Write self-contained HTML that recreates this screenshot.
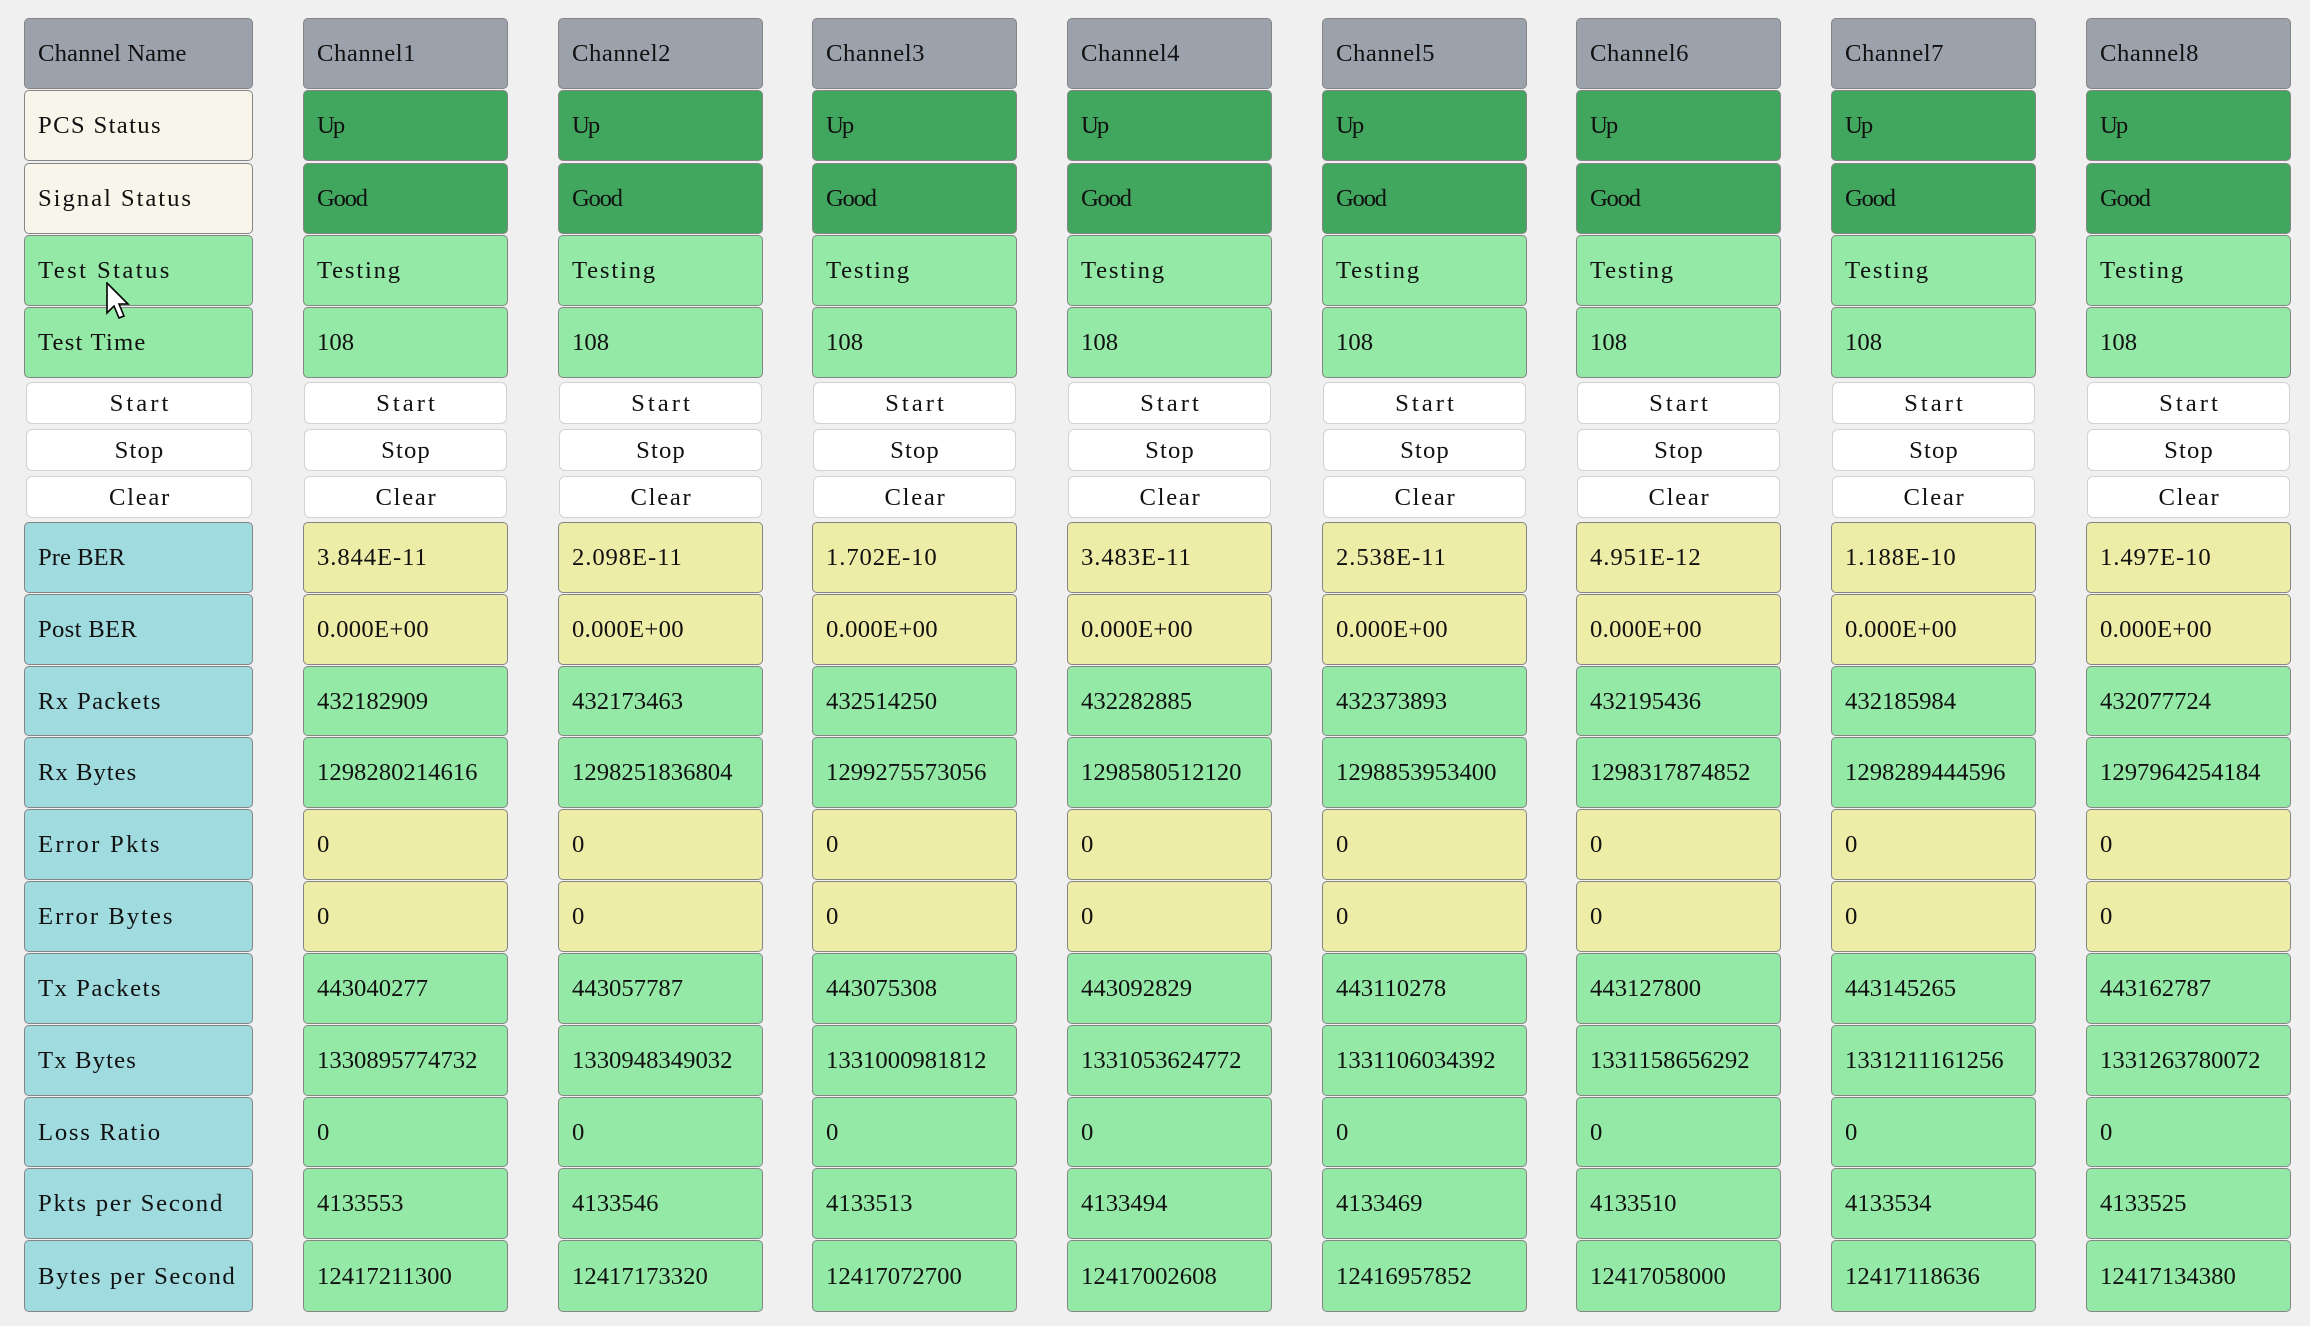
<!DOCTYPE html>
<html><head><meta charset="utf-8">
<style>
html,body{margin:0;padding:0;background:#f0f0f0;}
body{width:2310px;height:1326px;position:relative;overflow:hidden;font-family:"Liberation Serif","Noto Serif CJK SC",serif;font-size:24.7px;color:#111;}
.b{position:absolute;box-sizing:border-box;border:1.5px solid #858585;border-radius:5px;display:flex;align-items:center;padding-left:13px;padding-top:1px;white-space:nowrap;}
.b span{display:inline-block;}
.btn{position:absolute;box-sizing:border-box;border:1.5px solid #d2d2d2;border-radius:6px;background:#fff;display:flex;align-items:center;justify-content:center;white-space:nowrap;padding-top:1px;}
.btn span{display:inline-block;}
.cn{letter-spacing:0.55px}
.up{letter-spacing:-2px}
.gd{letter-spacing:-1.3px}
.ts{letter-spacing:1.8px}
.st{letter-spacing:3px;margin-left:3px}
.sp{letter-spacing:1.1px;margin-left:1px}
.cl{letter-spacing:1.7px;margin-left:2px}
.pb{letter-spacing:0.9px}
.pob{letter-spacing:0.3px}
/* columns */
.c0{left:24px;width:229px}
.c1{left:303px;width:205px}
.c2{left:558px;width:205px}
.c3{left:812px;width:205px}
.c4{left:1067px;width:205px}
.c5{left:1322px;width:205px}
.c6{left:1576px;width:205px}
.c7{left:1831px;width:205px}
.c8{left:2086px;width:205px}
.btn.c0{left:26px;width:226px}
.btn.c1{left:304px;width:203px}
.btn.c2{left:559px;width:203px}
.btn.c3{left:813px;width:203px}
.btn.c4{left:1068px;width:203px}
.btn.c5{left:1323px;width:203px}
.btn.c6{left:1577px;width:203px}
.btn.c7{left:1832px;width:203px}
.btn.c8{left:2087px;width:203px}
/* rows */
.r0{top:18px;height:71px}
.r1{top:90px;height:71px}
.r2{top:163px;height:71px}
.r3{top:235px;height:71px}
.r4{top:307px;height:71px}
.s0{top:382px;height:42px}
.s1{top:429px;height:42px}
.s2{top:476px;height:42px}
.d0{top:522px;height:71px}
.d1{top:594px;height:71px}
.d2{top:666px;height:70px}
.d3{top:737px;height:71px}
.d4{top:809px;height:71px}
.d5{top:881px;height:71px}
.d6{top:953px;height:71px}
.d7{top:1025px;height:71px}
.d8{top:1097px;height:70px}
.d9{top:1168px;height:71px}
.d10{top:1240px;height:72px}
/* colors */
.gy{background:#9ca2ac}
.cr{background:#f8f6ea}
.dg{background:#41a65e}
.lg{background:#94e9a7}
.cy{background:#a0dbe0}
.ye{background:#eeeda8}
</style></head><body>

<!-- Label column -->
<div class="b c0 r0 gy"><span style="letter-spacing:0.1px">Channel Name</span></div>
<div class="b c0 r1 cr"><span style="letter-spacing:1.35px">PCS Status</span></div>
<div class="b c0 r2 cr"><span style="letter-spacing:1.95px">Signal Status</span></div>
<div class="b c0 r3 lg"><span style="letter-spacing:2.4px">Test Status</span></div>
<div class="b c0 r4 lg"><span style="letter-spacing:1.2px">Test Time</span></div>
<div class="btn c0 s0"><span class="st">Start</span></div>
<div class="btn c0 s1"><span class="sp">Stop</span></div>
<div class="btn c0 s2"><span class="cl">Clear</span></div>
<div class="b c0 d0 cy"><span>Pre BER</span></div>
<div class="b c0 d1 cy"><span style="letter-spacing:0.3px">Post BER</span></div>
<div class="b c0 d2 cy"><span style="letter-spacing:1.35px">Rx Packets</span></div>
<div class="b c0 d3 cy"><span style="letter-spacing:1px">Rx Bytes</span></div>
<div class="b c0 d4 cy"><span style="letter-spacing:2.3px">Error Pkts</span></div>
<div class="b c0 d5 cy"><span style="letter-spacing:2px">Error Bytes</span></div>
<div class="b c0 d6 cy"><span style="letter-spacing:1.5px">Tx Packets</span></div>
<div class="b c0 d7 cy"><span style="letter-spacing:1.15px">Tx Bytes</span></div>
<div class="b c0 d8 cy"><span style="letter-spacing:1.75px">Loss Ratio</span></div>
<div class="b c0 d9 cy"><span style="letter-spacing:1.8px">Pkts per Second</span></div>
<div class="b c0 d10 cy"><span style="letter-spacing:1.6px">Bytes per Second</span></div>

<!-- Channel 1 -->
<div class="b c1 r0 gy"><span class="cn">Channel1</span></div>
<div class="b c1 r1 dg"><span class="up">Up</span></div>
<div class="b c1 r2 dg"><span class="gd">Good</span></div>
<div class="b c1 r3 lg"><span class="ts">Testing</span></div>
<div class="b c1 r4 lg"><span>108</span></div>
<div class="btn c1 s0"><span class="st">Start</span></div>
<div class="btn c1 s1"><span class="sp">Stop</span></div>
<div class="btn c1 s2"><span class="cl">Clear</span></div>
<div class="b c1 d0 ye"><span class="pb">3.844E-11</span></div>
<div class="b c1 d1 ye"><span class="pob">0.000E+00</span></div>
<div class="b c1 d2 lg"><span>432182909</span></div>
<div class="b c1 d3 lg"><span>1298280214616</span></div>
<div class="b c1 d4 ye"><span>0</span></div>
<div class="b c1 d5 ye"><span>0</span></div>
<div class="b c1 d6 lg"><span>443040277</span></div>
<div class="b c1 d7 lg"><span>1330895774732</span></div>
<div class="b c1 d8 lg"><span>0</span></div>
<div class="b c1 d9 lg"><span>4133553</span></div>
<div class="b c1 d10 lg"><span>12417211300</span></div>

<!-- Channel 2 -->
<div class="b c2 r0 gy"><span class="cn">Channel2</span></div>
<div class="b c2 r1 dg"><span class="up">Up</span></div>
<div class="b c2 r2 dg"><span class="gd">Good</span></div>
<div class="b c2 r3 lg"><span class="ts">Testing</span></div>
<div class="b c2 r4 lg"><span>108</span></div>
<div class="btn c2 s0"><span class="st">Start</span></div>
<div class="btn c2 s1"><span class="sp">Stop</span></div>
<div class="btn c2 s2"><span class="cl">Clear</span></div>
<div class="b c2 d0 ye"><span class="pb">2.098E-11</span></div>
<div class="b c2 d1 ye"><span class="pob">0.000E+00</span></div>
<div class="b c2 d2 lg"><span>432173463</span></div>
<div class="b c2 d3 lg"><span>1298251836804</span></div>
<div class="b c2 d4 ye"><span>0</span></div>
<div class="b c2 d5 ye"><span>0</span></div>
<div class="b c2 d6 lg"><span>443057787</span></div>
<div class="b c2 d7 lg"><span>1330948349032</span></div>
<div class="b c2 d8 lg"><span>0</span></div>
<div class="b c2 d9 lg"><span>4133546</span></div>
<div class="b c2 d10 lg"><span>12417173320</span></div>

<!-- Channel 3 -->
<div class="b c3 r0 gy"><span class="cn">Channel3</span></div>
<div class="b c3 r1 dg"><span class="up">Up</span></div>
<div class="b c3 r2 dg"><span class="gd">Good</span></div>
<div class="b c3 r3 lg"><span class="ts">Testing</span></div>
<div class="b c3 r4 lg"><span>108</span></div>
<div class="btn c3 s0"><span class="st">Start</span></div>
<div class="btn c3 s1"><span class="sp">Stop</span></div>
<div class="btn c3 s2"><span class="cl">Clear</span></div>
<div class="b c3 d0 ye"><span class="pb">1.702E-10</span></div>
<div class="b c3 d1 ye"><span class="pob">0.000E+00</span></div>
<div class="b c3 d2 lg"><span>432514250</span></div>
<div class="b c3 d3 lg"><span>1299275573056</span></div>
<div class="b c3 d4 ye"><span>0</span></div>
<div class="b c3 d5 ye"><span>0</span></div>
<div class="b c3 d6 lg"><span>443075308</span></div>
<div class="b c3 d7 lg"><span>1331000981812</span></div>
<div class="b c3 d8 lg"><span>0</span></div>
<div class="b c3 d9 lg"><span>4133513</span></div>
<div class="b c3 d10 lg"><span>12417072700</span></div>

<!-- Channel 4 -->
<div class="b c4 r0 gy"><span class="cn">Channel4</span></div>
<div class="b c4 r1 dg"><span class="up">Up</span></div>
<div class="b c4 r2 dg"><span class="gd">Good</span></div>
<div class="b c4 r3 lg"><span class="ts">Testing</span></div>
<div class="b c4 r4 lg"><span>108</span></div>
<div class="btn c4 s0"><span class="st">Start</span></div>
<div class="btn c4 s1"><span class="sp">Stop</span></div>
<div class="btn c4 s2"><span class="cl">Clear</span></div>
<div class="b c4 d0 ye"><span class="pb">3.483E-11</span></div>
<div class="b c4 d1 ye"><span class="pob">0.000E+00</span></div>
<div class="b c4 d2 lg"><span>432282885</span></div>
<div class="b c4 d3 lg"><span>1298580512120</span></div>
<div class="b c4 d4 ye"><span>0</span></div>
<div class="b c4 d5 ye"><span>0</span></div>
<div class="b c4 d6 lg"><span>443092829</span></div>
<div class="b c4 d7 lg"><span>1331053624772</span></div>
<div class="b c4 d8 lg"><span>0</span></div>
<div class="b c4 d9 lg"><span>4133494</span></div>
<div class="b c4 d10 lg"><span>12417002608</span></div>

<!-- Channel 5 -->
<div class="b c5 r0 gy"><span class="cn">Channel5</span></div>
<div class="b c5 r1 dg"><span class="up">Up</span></div>
<div class="b c5 r2 dg"><span class="gd">Good</span></div>
<div class="b c5 r3 lg"><span class="ts">Testing</span></div>
<div class="b c5 r4 lg"><span>108</span></div>
<div class="btn c5 s0"><span class="st">Start</span></div>
<div class="btn c5 s1"><span class="sp">Stop</span></div>
<div class="btn c5 s2"><span class="cl">Clear</span></div>
<div class="b c5 d0 ye"><span class="pb">2.538E-11</span></div>
<div class="b c5 d1 ye"><span class="pob">0.000E+00</span></div>
<div class="b c5 d2 lg"><span>432373893</span></div>
<div class="b c5 d3 lg"><span>1298853953400</span></div>
<div class="b c5 d4 ye"><span>0</span></div>
<div class="b c5 d5 ye"><span>0</span></div>
<div class="b c5 d6 lg"><span>443110278</span></div>
<div class="b c5 d7 lg"><span>1331106034392</span></div>
<div class="b c5 d8 lg"><span>0</span></div>
<div class="b c5 d9 lg"><span>4133469</span></div>
<div class="b c5 d10 lg"><span>12416957852</span></div>

<!-- Channel 6 -->
<div class="b c6 r0 gy"><span class="cn">Channel6</span></div>
<div class="b c6 r1 dg"><span class="up">Up</span></div>
<div class="b c6 r2 dg"><span class="gd">Good</span></div>
<div class="b c6 r3 lg"><span class="ts">Testing</span></div>
<div class="b c6 r4 lg"><span>108</span></div>
<div class="btn c6 s0"><span class="st">Start</span></div>
<div class="btn c6 s1"><span class="sp">Stop</span></div>
<div class="btn c6 s2"><span class="cl">Clear</span></div>
<div class="b c6 d0 ye"><span class="pb">4.951E-12</span></div>
<div class="b c6 d1 ye"><span class="pob">0.000E+00</span></div>
<div class="b c6 d2 lg"><span>432195436</span></div>
<div class="b c6 d3 lg"><span>1298317874852</span></div>
<div class="b c6 d4 ye"><span>0</span></div>
<div class="b c6 d5 ye"><span>0</span></div>
<div class="b c6 d6 lg"><span>443127800</span></div>
<div class="b c6 d7 lg"><span>1331158656292</span></div>
<div class="b c6 d8 lg"><span>0</span></div>
<div class="b c6 d9 lg"><span>4133510</span></div>
<div class="b c6 d10 lg"><span>12417058000</span></div>

<!-- Channel 7 -->
<div class="b c7 r0 gy"><span class="cn">Channel7</span></div>
<div class="b c7 r1 dg"><span class="up">Up</span></div>
<div class="b c7 r2 dg"><span class="gd">Good</span></div>
<div class="b c7 r3 lg"><span class="ts">Testing</span></div>
<div class="b c7 r4 lg"><span>108</span></div>
<div class="btn c7 s0"><span class="st">Start</span></div>
<div class="btn c7 s1"><span class="sp">Stop</span></div>
<div class="btn c7 s2"><span class="cl">Clear</span></div>
<div class="b c7 d0 ye"><span class="pb">1.188E-10</span></div>
<div class="b c7 d1 ye"><span class="pob">0.000E+00</span></div>
<div class="b c7 d2 lg"><span>432185984</span></div>
<div class="b c7 d3 lg"><span>1298289444596</span></div>
<div class="b c7 d4 ye"><span>0</span></div>
<div class="b c7 d5 ye"><span>0</span></div>
<div class="b c7 d6 lg"><span>443145265</span></div>
<div class="b c7 d7 lg"><span>1331211161256</span></div>
<div class="b c7 d8 lg"><span>0</span></div>
<div class="b c7 d9 lg"><span>4133534</span></div>
<div class="b c7 d10 lg"><span>12417118636</span></div>

<!-- Channel 8 -->
<div class="b c8 r0 gy"><span class="cn">Channel8</span></div>
<div class="b c8 r1 dg"><span class="up">Up</span></div>
<div class="b c8 r2 dg"><span class="gd">Good</span></div>
<div class="b c8 r3 lg"><span class="ts">Testing</span></div>
<div class="b c8 r4 lg"><span>108</span></div>
<div class="btn c8 s0"><span class="st">Start</span></div>
<div class="btn c8 s1"><span class="sp">Stop</span></div>
<div class="btn c8 s2"><span class="cl">Clear</span></div>
<div class="b c8 d0 ye"><span class="pb">1.497E-10</span></div>
<div class="b c8 d1 ye"><span class="pob">0.000E+00</span></div>
<div class="b c8 d2 lg"><span>432077724</span></div>
<div class="b c8 d3 lg"><span>1297964254184</span></div>
<div class="b c8 d4 ye"><span>0</span></div>
<div class="b c8 d5 ye"><span>0</span></div>
<div class="b c8 d6 lg"><span>443162787</span></div>
<div class="b c8 d7 lg"><span>1331263780072</span></div>
<div class="b c8 d8 lg"><span>0</span></div>
<div class="b c8 d9 lg"><span>4133525</span></div>
<div class="b c8 d10 lg"><span>12417134380</span></div>

<!-- mouse cursor -->
<svg style="position:absolute;left:106px;top:282px" width="26" height="40" viewBox="0 0 26 40">
  <polygon points="1,1 1,31 8,24 13,36 18,34 13,22 22,22" fill="#fff" stroke="#000" stroke-width="1.6" stroke-linejoin="miter"/>
</svg>

</body></html>
